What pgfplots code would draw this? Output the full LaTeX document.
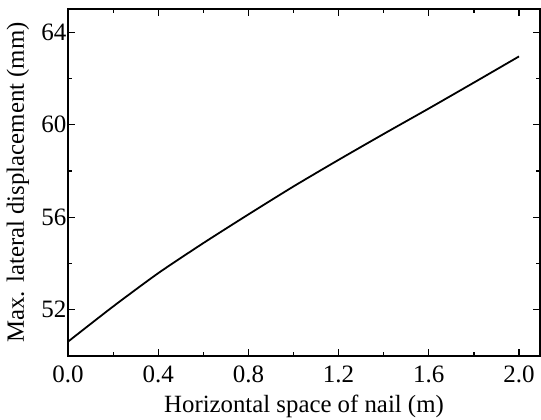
\documentclass[border=0pt]{standalone}
\usepackage{fontspec}
\setmainfont{Liberation Serif}
\usepackage{pgfplots}
\pgfplotsset{compat=1.18}
\begin{document}
\begin{tikzpicture}
\begin{axis}[
  scale only axis,
  width=236pt, height=173.5pt,
  xmin=0, xmax=2.093, ymin=50, ymax=65,
  xtick={0,0.4,...,2.0},
  ytick={52,56,60,64},
  minor xtick={0.2,0.6,1.0,1.4,1.8},
  minor ytick={54,58,62},
  xticklabel style={/pgf/number format/fixed, /pgf/number format/fixed zerofill, /pgf/number format/precision=1, anchor=base, yshift=-13pt},
  yticklabel style={xshift=2.7pt},
  /pgf/number format/assume math mode=true,
  tick align=inside,
  major tick length=3.6pt,
  minor tick length=2.2pt,
  tick style={black, line width=0.6pt},
  axis line style={line width=0.8pt},
  ticklabel style={font=\fontsize{12.5}{14}\selectfont},
  label style={font=\fontsize{12.4}{14}\selectfont},
  xlabel={Horizontal space of nail (m)},
  ylabel={Max. lateral displacement (mm)},
  xlabel style={at={(axis description cs:0.5,-0.1614)}, anchor=base},
  ylabel style={at={(axis description cs:-0.0935,0.5)}, anchor=base},
]
\addplot[black, line width=0.9pt, smooth, tension=0.4] coordinates {
(0.0,50.62) (0.2,52.14) (0.4,53.58) (0.6,54.88) (0.8,56.12) (1.0,57.33)
(1.2,58.48) (1.4,59.60) (1.6,60.70) (1.8,61.82) (2.0,62.95)
};
\end{axis}
\pgfresetboundingbox
\useasboundingbox ([shift={(-34pt,-31.5pt)}]current axis.south west) rectangle ([shift={(0.5pt,4.5pt)}]current axis.north east);
\end{tikzpicture}
\end{document}
